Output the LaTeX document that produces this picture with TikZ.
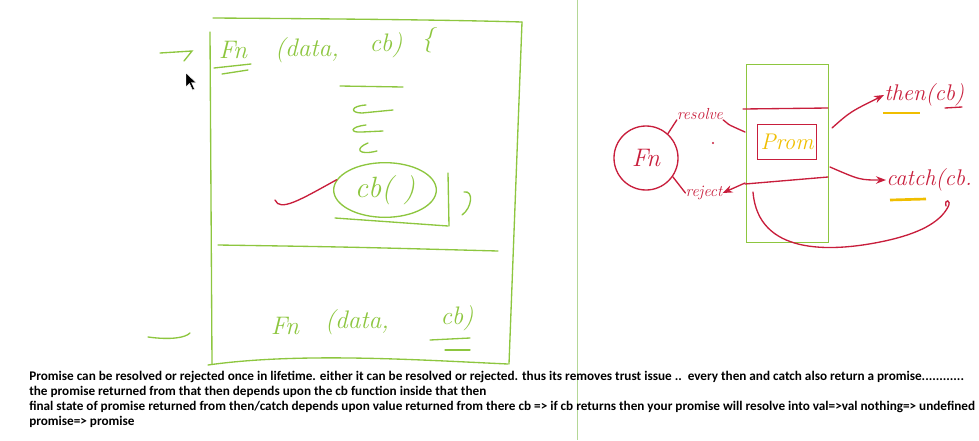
\documentclass[tikz,border=0pt]{standalone}
\usepackage{fontspec}
\newfontfamily\notefont{Carlito}
\usetikzlibrary{arrows.meta,shapes.geometric}

\definecolor{penGreen}{RGB}{141,198,63}
\definecolor{rulerGreen}{RGB}{180,215,150}
\definecolor{penRed}{RGB}{200,30,60}
\definecolor{penYellow}{RGB}{240,190,0}

\tikzset{
  greenpen/.style={draw=penGreen, line width=1pt, line cap=round},
  redpen/.style={draw=penRed, line width=1pt, line cap=round},
  hand/.style={font=\itshape\fontsize{19}{21}\selectfont, inner sep=0pt},
  smallhand/.style={font=\itshape\fontsize{12}{14}\selectfont, inner sep=0pt},
  notes/.style={font=\notefont\bfseries\fontsize{9.9}{12}\selectfont, anchor=base west, inner sep=0pt}
}

\begin{document}
\begin{tikzpicture}[x=0.75pt, y=-0.75pt, >=Stealth]
\useasboundingbox (0,0) rectangle (979,440);

% --- LEFT : FUNCTION TAKING A CALLBACK ---
\begin{scope}
  % Box
  \draw[greenpen] (213,18) .. controls (360,19) and (450,20) .. (522,22);
  \draw[greenpen] (522,22) -- (509,364);
  \draw[greenpen] (210,32) -- (212,364);
  \draw[greenpen] (208,365) .. controls (300,352) and (420,360) .. (508,364);
  \draw[greenpen] (218,245) .. controls (350,247) .. (498,251);

  % Header
  \node[hand, text=penGreen] (fna) at (233,50) {Fn};
  \node[hand, text=penGreen] (dataa) at (307,50) {(data,};
  \node[hand, text=penGreen] (cba) at (386,45) {cb)};
  \node[hand, text=penGreen] (bracea) at (428,40) {\{};
  \draw[greenpen] (214,68) -- (251,64);
  \draw[greenpen] (222,74) -- (248,70);
  \coordinate (ina) at (160,53);
  \draw[greenpen] (ina) -- (192,51) -- (184,61);

  % Cursor
  \fill[black, draw=white, line width=0.3pt] (186,73) -- (186,87) -- (189.5,83.5) -- (192.5,90) -- (194.5,89) -- (191.5,82.5) -- (196,82.5) -- cycle;

  % Body strokes
  \draw[greenpen] (340,86) -- (403,87);
  \draw[greenpen] (366,105) .. controls (350,106) and (350,113) .. (362,113) -- (393,110);
  \draw[greenpen] (366,125) .. controls (349,127) and (350,133) .. (362,132) -- (383,131);
  \draw[greenpen] (368,143) .. controls (355,148) and (357,156) .. (377,151);

  % Callback call
  \node[greenpen, ellipse, minimum width=77pt, minimum height=41pt, hand, font=\itshape\fontsize{22}{24}\selectfont, text=penGreen] (cbcall) at (385,190) {cb( )};
  \draw[greenpen] (335,218) -- (448,226);
  \draw[greenpen] (448,173) -- (449,226);
  \draw[greenpen] (464,192) .. controls (474,190) and (472,208) .. (462,215);
  \coordinate (caller) at (275,200);
  \draw[redpen] (caller) .. controls (280,212) and (300,200) .. (cbcall.168);

  % Call of the function
  \node[hand, text=penGreen] (fnb) at (285,326) {Fn};
  \node[hand, text=penGreen] (datab) at (357,322) {(data,};
  \node[hand, text=penGreen] (cbb) at (457,318) {cb)};
  \draw[greenpen] (430,340) -- (470,338);
  \draw[greenpen] (445,350) -- (470,350);
  \coordinate (inb) at (148,337);
  \draw[greenpen] (inb) .. controls (170,340) and (185,338) .. (190,333);
\end{scope}

% Separator
\draw[draw=rulerGreen, line width=0.6pt] (577,0) -- (577,440);

% --- RIGHT : PROMISE ---
\begin{scope}
  \node[redpen, circle, minimum size=48pt, hand, text=penRed] (fnc) at (646,158) {Fn};
  \node[greenpen, line width=0.6pt, minimum width=62pt, minimum height=133pt] (pbox) at (787.5,153.5) {};
  \draw[redpen] (743,109) -- (828,108);
  \draw[redpen] (745,184) -- (828,177);
  \node[redpen, minimum width=44pt, minimum height=26pt, hand, font=\itshape\fontsize{17}{19}\selectfont, text=penYellow] (prom) at (787,142) {Prom};

  % resolve / reject
  \node[smallhand, text=penRed] (res) at (700,114) {resolve};
  \node[smallhand, text=penRed] (rej) at (704,193) {reject};
  \coordinate (resin) at (745,132);
  \coordinate (rejout) at (745,183);
  \draw[redpen] (fnc.48) -- (res.south west);
  \draw[redpen] (res.south east) .. controls (727,124) .. (resin);
  \draw[redpen] (fnc.-35) -- (rej.west);
  \draw[redpen, ->] (rejout) -- (rej.east);
  \fill[penRed] (713,143) circle (0.9pt);

  % then / catch
  \node[hand, font=\itshape\fontsize{17}{19}\selectfont, text=penRed, anchor=west] (thenl) at (884,95) {then(cb)};
  \node[hand, font=\itshape\fontsize{17}{19}\selectfont, text=penRed, anchor=west] (catchl) at (886,180) {catch(cb.};
  \coordinate (thenout) at (832,128);
  \coordinate (catchout) at (830,167);
  \draw[redpen, ->] (thenout) .. controls (850,112) .. (thenl.west);
  \draw[redpen, ->] (catchout) .. controls (860,180) .. (catchl.west);
  \draw[draw=penYellow, line width=2pt] (883,113) -- (920,113);
  \draw[draw=penYellow, line width=2pt] (890,200) -- (926,199);
  \draw[redpen] (945,108) -- (962,107);

  % Returned promise
  \coordinate (back) at (753,192);
  \coordinate (loop) at (948,207);
  \draw[redpen] (back) .. controls (758,255) and (830,252) .. (880,242) .. controls (920,234) and (940,222) .. (loop) .. controls (952,200) and (944,198) .. (946,206);
\end{scope}

% --- NOTES ---
\node[notes] (txta) at (29,380) {Promise can be resolved or rejected once in lifetime. either it can be resolved or rejected. thus its removes trust issue ..\ \ every then and catch also return a promise............};
\node[notes] (txtb) at (29,395) {the promise returned from that then depends upon the cb function inside that then};
\node[notes] (txtc) at (29,410) {final state of promise returned from then/catch depends upon value returned from there cb => if cb returns then your promise will resolve into val=>val nothing=> undefined};
\node[notes] (txtd) at (29,425) {promise=> promise};

\end{tikzpicture}
\end{document}
